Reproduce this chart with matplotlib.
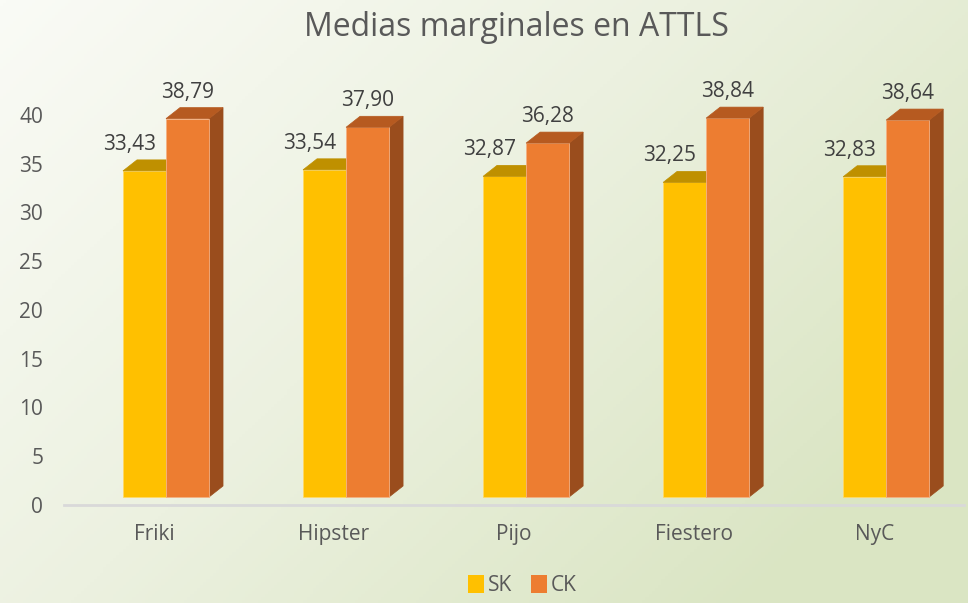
import numpy as np
import matplotlib
matplotlib.use("Agg")
import matplotlib.pyplot as plt
from matplotlib.patches import Polygon, Patch
from matplotlib.colors import LinearSegmentedColormap

categories = ["Friki", "Hipster", "Pijo", "Fiestero", "NyC"]
sk_values = [33.43, 33.54, 32.87, 32.25, 32.83]
ck_values = [38.79, 37.90, 36.28, 38.84, 38.64]
sk_labels = ["33,43", "33,54", "32,87", "32,25", "32,83"]
ck_labels = ["38,79", "37,90", "36,28", "38,84", "38,64"]
yticks = [0, 5, 10, 15, 20, 25, 30, 35, 40]

plt.rcParams['font.family'] = ['Open Sans', 'DejaVu Sans']
text_col = "#595959"

fig = plt.figure(figsize=(9.68, 6.03), dpi=100)

# background gradient (white-ish top left -> light green bottom right)
bg = fig.add_axes([0, 0, 1, 1], zorder=-10)
gx, gy = np.meshgrid(np.linspace(0, 1, 300), np.linspace(0, 1, 200))
grad = np.clip(0.7 * gx + 0.45 * gy, 0, 1)
cmap = LinearSegmentedColormap.from_list("bg", ["#FAFBF6", "#ECF1E0", "#DAE5C3"])
bg.imshow(grad, cmap=cmap, aspect="auto", extent=[0, 1, 0, 1], origin="upper")
bg.axis("off")

ax = fig.add_axes([0.0661, 0.1625, 0.93, 0.728])
ax.patch.set_alpha(0)
ax.set_xlim(-0.5, 4.5)
ax.set_ylim(0, 45)

# 3d-ish geometry (pixel based)
px_x = 180.0            # pixels per category
px_y = 9.75             # pixels per value unit
w = 43 / px_x
shift = 12 / px_x
lift = 8 / px_y
ddx = 14 / px_x
ddy = 11 / px_y

series = [
    (sk_values, sk_labels, -1, "#FFC000", "#BF9000", "#A67D00", -15),
    (ck_values, ck_labels, 0, "#ED7D31", "#B65A20", "#9A4D1D", 0),
]
for vals, labs, off, front, top, side, ldx in series:
    for i, v in enumerate(vals):
        x0 = i + shift + off * w
        x1 = x0 + w
        ax.bar(x0, v, width=w, bottom=lift, align="edge", color=front,
               edgecolor="#F4B183" if off == 0 else "#FFD966", linewidth=0.6, zorder=3)
        ax.add_patch(Polygon([(x0, lift + v), (x1, lift + v), (x1 + ddx, lift + v + ddy),
                              (x0 + ddx, lift + v + ddy)], closed=True, facecolor=top,
                             edgecolor=top, linewidth=0.5, zorder=3))
        ax.add_patch(Polygon([(x1, lift), (x1 + ddx, lift + ddy), (x1 + ddx, lift + v + ddy),
                              (x1, lift + v)], closed=True, facecolor=side,
                             edgecolor=side, linewidth=0.5, zorder=2 + off))
        ax.annotate(labs[i], (x0 + w / 2, lift + v), xytext=(ldx, 16),
                    textcoords="offset pixels", ha="center", va="bottom",
                    fontsize=15, color="#404040", zorder=5)

for s in ["top", "right", "left"]:
    ax.spines[s].set_visible(False)
ax.spines["bottom"].set_color("#D9D9D9")
ax.spines["bottom"].set_linewidth(2)

ax.set_xticks(range(len(categories)))
ax.set_xticklabels(categories)
ax.set_yticks(yticks)
ax.tick_params(axis="both", length=0, labelsize=15, colors=text_col)
ax.tick_params(axis="y", pad=15)
ax.tick_params(axis="x", pad=14)

fig.text(0.534, 0.955, "Medias marginales en ATTLS", ha="center", va="center",
         fontsize=23, color=text_col)

handles = [Patch(facecolor="#FFC000", label="SK"), Patch(facecolor="#ED7D31", label="CK")]
leg = fig.legend(handles=handles, loc="lower center", bbox_to_anchor=(0.54, -0.02), ncol=2,
                 frameon=False, fontsize=15, handlelength=0.75, handleheight=1.0,
                 handletextpad=0.2, columnspacing=0.9)
for t in leg.get_texts():
    t.set_color(text_col)

fig.savefig("out.png", dpi=100)
